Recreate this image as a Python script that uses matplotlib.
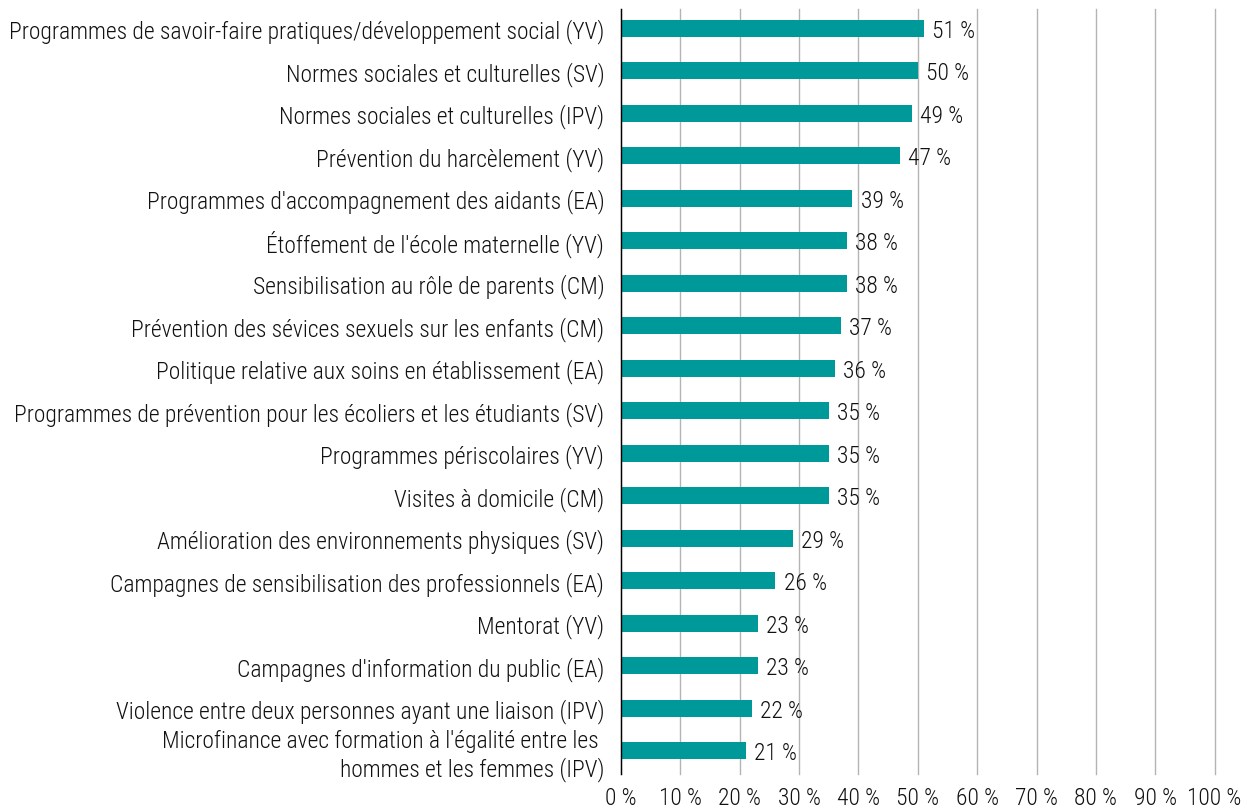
import matplotlib.pyplot as plt
from matplotlib import font_manager

# --------------------------------------------------------
# Data
# --------------------------------------------------------
categories = [
    "Programmes de savoir-faire pratiques/développement social (YV)",
    "Normes sociales et culturelles (SV)",
    "Normes sociales et culturelles (IPV)",
    "Prévention du harcèlement (YV)",
    "Programmes d'accompagnement des aidants (EA)",
    "Étoffement de l'école maternelle (YV)",
    "Sensibilisation au rôle de parents (CM)",
    "Prévention des sévices sexuels sur les enfants (CM)",
    "Politique relative aux soins en établissement (EA)",
    "Programmes de prévention pour les écoliers et les étudiants (SV)",
    "Programmes périscolaires (YV)",
    "Visites à domicile (CM)",
    "Amélioration des environnements physiques (SV)",
    "Campagnes de sensibilisation des professionnels (EA)",
    "Mentorat (YV)",
    "Campagnes d'information du public (EA)",
    "Violence entre deux personnes ayant une liaison (IPV)",
    "Microfinance avec formation à l'égalité entre les \nhommes et les femmes (IPV)",
]
values = [51, 50, 49, 47, 39, 38, 38, 37, 36, 35, 35, 35, 29, 26, 23, 23, 22, 21]
x_ticks = list(range(0, 101, 10))

# pick a narrow font (the reference uses a condensed face)
fonts = font_manager.fontManager.ttflist
names = {f.name for f in fonts}
weight = "normal"
if "Roboto Condensed" in names:
    plt.rcParams["font.family"] = "Roboto Condensed"
    if any(f.name == "Roboto Condensed" and f.weight in (300, "light") for f in fonts):
        weight = "light"
elif "Liberation Sans Narrow" in names:
    plt.rcParams["font.family"] = "Liberation Sans Narrow"
else:
    plt.rcParams["font.family"] = "DejaVu Sans"
    plt.rcParams["font.stretch"] = "condensed"
plt.rcParams["font.weight"] = weight

text_color = "#111111"

fig = plt.figure(figsize=(12.47, 8.12), dpi=100)
ax = fig.add_axes([0.498, 0.0456, 0.476, 0.942])

# scale font so the widest label spans ~596 px like the reference
renderer = fig.canvas.get_renderer()
probe = fig.text(0, 0, categories[0], fontsize=10)
w = probe.get_window_extent(renderer).width
probe.remove()
fs = 10 * 596 / w

ypos = list(range(len(categories)))
ax.barh(ypos, values, height=0.4, color="#009999", zorder=3)

for y, v in zip(ypos, values):
    ax.text(v + 1.4, y + 0.05, f"{v} %", va="center", ha="left", fontsize=fs,
            color=text_color, zorder=4)

ax.set_yticks(ypos)
ax.set_yticklabels(categories, fontsize=fs, color=text_color)
ax.set_ylim(17.55, -0.45)
ax.set_xlim(0, 100)
ax.set_xticks(x_ticks)
ax.set_xticklabels([f"{t} %" for t in x_ticks], fontsize=fs, color=text_color)

ax.grid(axis="x", color="#b4b4b4", linewidth=1.0, zorder=0)
for gl in ax.get_xgridlines():
    gl.set_clip_on(False)
ax.tick_params(axis="both", length=0)
ax.tick_params(axis="x", pad=9)
ax.tick_params(axis="y", pad=12)
for s in ["top", "right", "bottom"]:
    ax.spines[s].set_visible(False)
ax.spines["left"].set_color("black")
ax.spines["left"].set_linewidth(1.0)
ax.spines["left"].set_zorder(5)

fig.savefig("out.png", dpi=100)
